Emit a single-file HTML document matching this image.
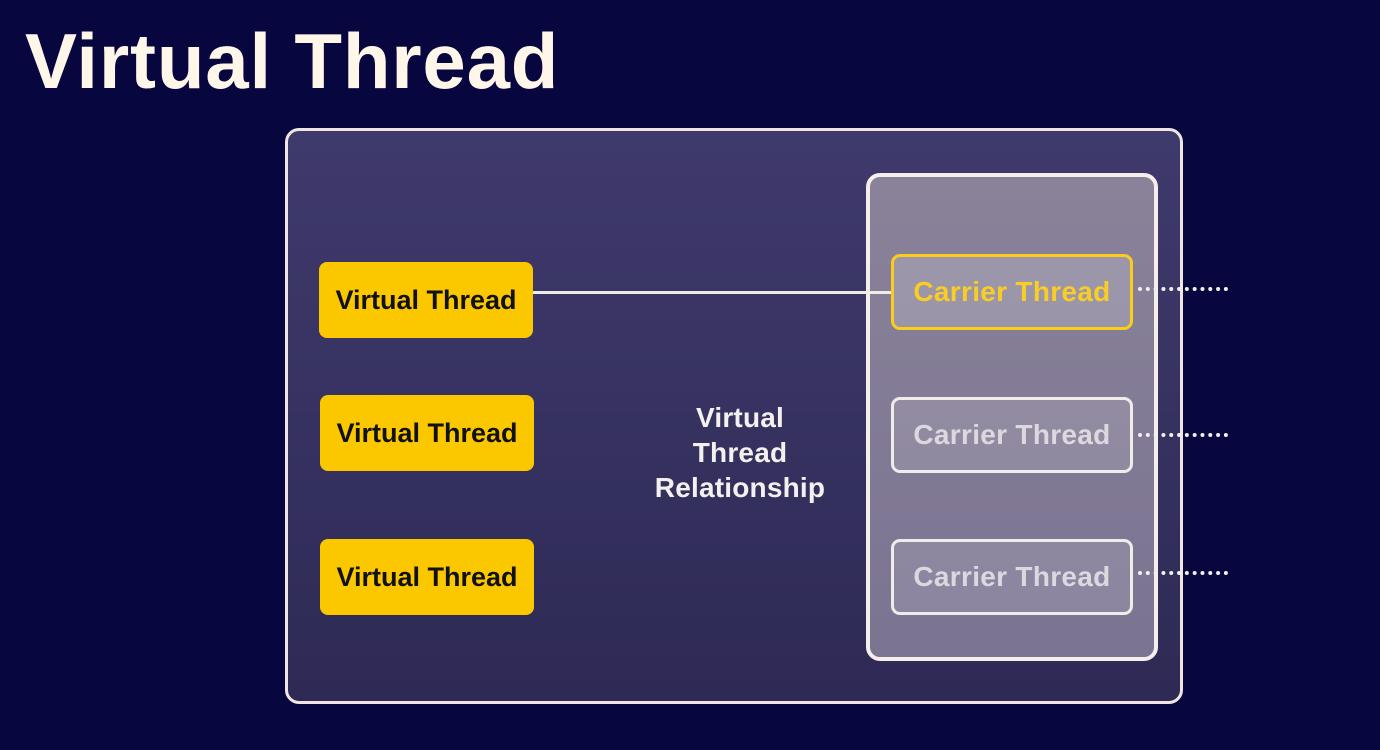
<!DOCTYPE html>
<html><head><style>
body{margin:0;width:1380px;height:750px;background:#07063f;position:relative;overflow:hidden;font-family:"Liberation Sans",Arial,sans-serif;font-weight:bold}
.a{position:absolute;box-sizing:border-box}
.t{left:25px;top:16px;font-size:78px;color:#fff6ea;letter-spacing:0.8px}
.outer{left:285px;top:128px;width:898px;height:576px;border:3px solid #efe6e2;border-radius:14px;background:linear-gradient(#3f3a6c,#2e2a55)}
.cc{left:866px;top:173px;width:292px;height:488px;border:4px solid #f5eeea;border-radius:14px;background:linear-gradient(#8a8299,#7b7492)}
.vt{width:214px;height:76px;background:#fbc800;border-radius:8px;color:#111;font-size:27px;letter-spacing:0;display:flex;align-items:center;justify-content:center;white-space:nowrap}
.ct{width:242px;height:76px;border:3px solid #f2ece8;border-radius:9px;background:rgba(255,255,255,0.12);color:#ddd8e0;font-size:28px;letter-spacing:0.3px;display:flex;align-items:center;justify-content:center;white-space:nowrap}
.dots{height:0;border-top:4px dotted #f0f0f0;width:90px;left:1138px}
.mid{left:620px;top:400px;width:240px;text-align:center;color:#f4f0ee;font-size:28px;line-height:35px;letter-spacing:0.2px}
</style></head><body>
<div class="a t">Virtual Thread</div>
<div class="a outer"></div>
<div class="a cc"></div>
<div class="a" style="left:533px;top:291px;width:360px;height:3px;background:#f0ebe8"></div>
<div class="a vt" style="left:319px;top:262px">Virtual Thread</div>
<div class="a vt" style="left:320px;top:395px">Virtual Thread</div>
<div class="a vt" style="left:320px;top:539px">Virtual Thread</div>
<div class="a ct" style="left:891px;top:254px;border-color:#fbcd1a;color:#f9cd25;background:rgba(255,255,255,0.18)">Carrier Thread</div>
<div class="a ct" style="left:891px;top:397px">Carrier Thread</div>
<div class="a ct" style="left:891px;top:539px">Carrier Thread</div>
<div class="a dots" style="top:287px"></div>
<div class="a dots" style="top:433px"></div>
<div class="a dots" style="top:571px"></div>
<div class="a mid">Virtual<br>Thread<br>Relationship</div>
</body></html>
